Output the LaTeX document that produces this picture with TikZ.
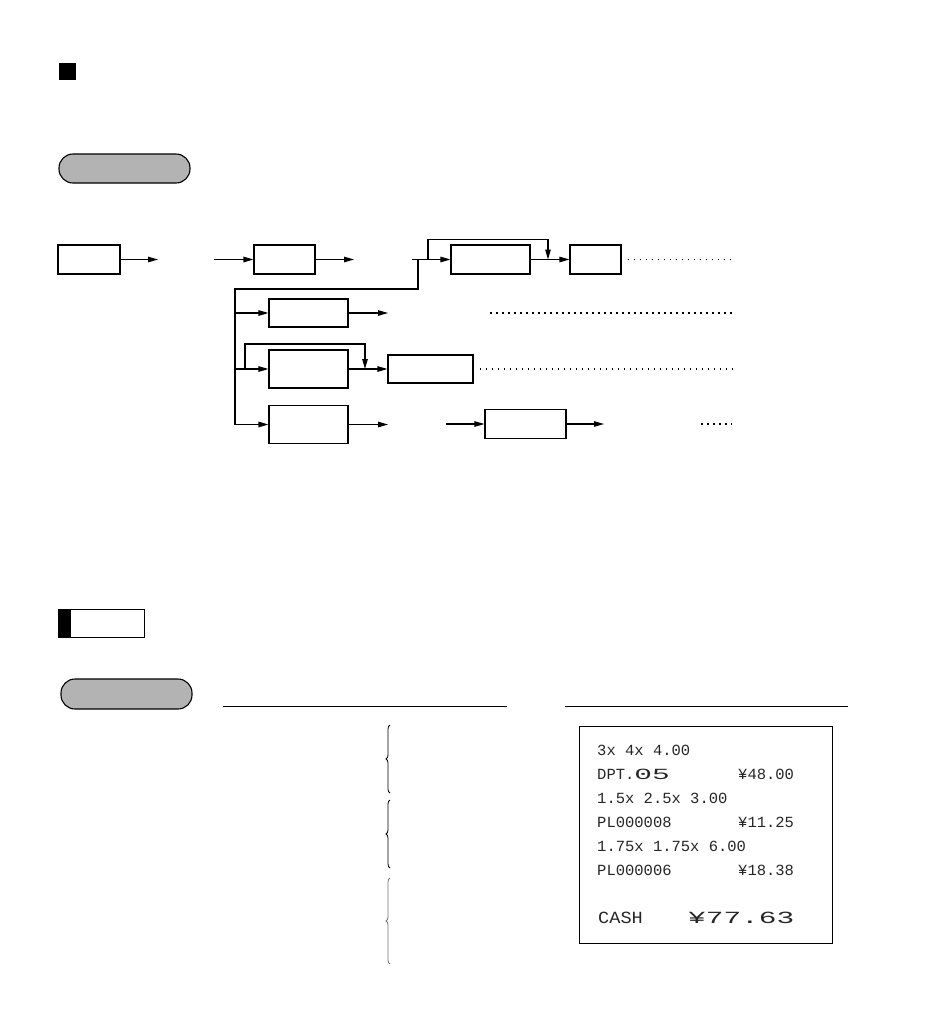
\documentclass[tikz,border=0pt]{standalone}
\usepackage{fontspec}
\usetikzlibrary{arrows.meta,decorations.pathreplacing}
\newfontfamily\rcpt{Liberation Mono}
\definecolor{pillgray}{HTML}{B3B3B3}
\tikzset{
  box/.style={draw, line width=1.1pt, inner sep=0pt, minimum width=#1},
  arr/.style={line width=1.1pt, -{Triangle[length=10pt,width=5.5pt]}},
  ln/.style={line width=1.1pt},
  dots/.style={line width=1.2pt, dash pattern=on 1.6pt off 4.4pt},
  pill/.style={draw, line width=1.1pt, fill=pillgray, rounded corners=14pt, inner sep=0pt},
  rtext/.style={anchor=base west, inner sep=0pt, font=\rcpt\fontsize{15.5}{18}\selectfont, text=black!85},
  brc/.style={line width=0.8pt, decorate, decoration={brace, amplitude=4pt}}
}
\begin{document}
\begin{tikzpicture}[x=1pt,y=-1pt]
\useasboundingbox (0,0) rectangle (934,1028);
% header marks
\fill (59,63) rectangle (76,80);
\node[pill, minimum width=131pt, minimum height=29pt] (p1) at (124.5,168.5) {};
% ---- flow diagram row 1
\node[box=62pt, minimum height=29pt] (A) at (89,259.5) {};
\node[box=61pt, minimum height=29pt] (B) at (284.5,259.5) {};
\node[box=79pt, minimum height=29pt] (C) at (490.5,259.5) {};
\node[box=51pt, minimum height=29pt] (D) at (595.5,259.5) {};
\coordinate (a1) at (158,259.5);
\coordinate (b0) at (214,259.5);
\coordinate (b1) at (354,259.5);
\coordinate (c0) at (412,259.5);
\coordinate (j1) at (418,259.5);
\coordinate (l1) at (428,259.5);
\coordinate (l1t) at (548,259.5);
\coordinate (d1) at (732,259.5);
\draw[arr] (A.east) -- (a1);
\draw[arr] (b0) -- (B.west);
\draw[arr] (B.east) -- (b1);
\draw[arr] (c0) -- (C.west);
\draw[arr] (C.east) -- (D.west);
\draw[arr] (l1) -- ++(0,-20) -| (l1t);
\draw[dots] ([xshift=6pt]D.east) -- (d1);
% branch trunk
\coordinate (tr) at (235,289);
\draw[ln] (j1) |- (tr) -- (235,424.5);
% row 2
\node[box=79pt, minimum height=28pt] (E) at (308.5,313) {};
\draw[arr] (235,313) -- (E.west);
\draw[arr] (E.east) -- (388,313);
\draw[dots] (490,313) -- (732,313);
% row 3
\node[box=79pt, minimum height=38pt] (F) at (308.5,369) {};
\node[box=85pt, minimum height=28pt] (G) at (430.5,369) {};
\draw[arr] (235,369) -- (F.west);
\draw[arr] (245,369) -- (245,344) -| (365,369);
\draw[arr] (F.east) -- (G.west);
\draw[dots] ([xshift=6pt]G.east) -- (732,369);
% row 4
\node[box=79pt, minimum height=38pt] (H) at (308.5,424.5) {};
\node[box=81pt, minimum height=29pt] (I) at (525.5,424) {};
\draw[arr] (235,424.5) -- (H.west);
\draw[arr] (H.east) -- (388,424.5);
\draw[arr] (446,424) -- (I.west);
\draw[arr] (I.east) -- (604,424);
\draw[dots] (701,424) -- (732,424);
% ---- second section
\node[draw, line width=1pt, minimum width=86pt, minimum height=28pt, inner sep=0pt] (nb) at (101,623) {};
\fill ([shift={(0.5pt,-0.5pt)}]nb.north west) rectangle (71,636.5);
\node[pill, minimum width=131pt, minimum height=30pt] (p2) at (126.5,694) {};
\draw[ln] (223,706.5) -- (507,706.5);
\draw[ln] (565,706.5) -- (848,706.5);
% braces
\draw[brc] (390,793) -- (390,725);
\draw[brc] (390,868) -- (390,800);
\draw[brc, draw=black!55] (390,964) -- (390,878);
% receipt
\node[draw, line width=1pt, minimum width=253pt, minimum height=217pt, inner sep=0pt] (rc) at (705.5,834.5) {};
\node[rtext] (r1) at (597,755) {3x 4x 4.00};
\node[rtext] (r2) at (597,779) {DPT.\scalebox{1.9}[1]{05}};
\node[rtext] (r2b) at (738,779) {¥48.00};
\node[rtext] (r3) at (597,803) {1.5x 2.5x 3.00};
\node[rtext] (r4) at (597,827) {PL000008};
\node[rtext] (r4b) at (738,827) {¥11.25};
\node[rtext] (r5) at (597,851) {1.75x 1.75x 6.00};
\node[rtext] (r6) at (597,875) {PL000006};
\node[rtext] (r6b) at (738,875) {¥18.38};
\node[rtext] (r7) at (598,923) {\scalebox{1.2}[1.1]{CASH}};
\node[rtext] (r7b) at (688,923) {\scalebox{1.9}[1.1]{¥77.63}};
\end{tikzpicture}
\end{document}
